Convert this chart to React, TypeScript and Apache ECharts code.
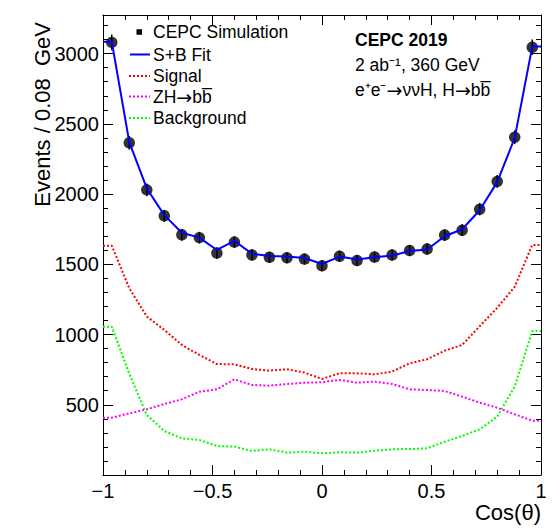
import { useEffect, useRef } from "react";
import * as echarts from "echarts";

// Bin centres of the cos(theta) histogram (bin width 0.08)
const binCenters = [
  -0.96, -0.88, -0.8, -0.72, -0.64, -0.56, -0.48, -0.4, -0.32, -0.24, -0.16, -0.08,
  0, 0.08, 0.16, 0.24, 0.32, 0.4, 0.48, 0.56, 0.64, 0.72, 0.8, 0.88, 0.96,
];

// Simulated events per bin
const simEvents = [
  3080, 2365, 2030, 1845, 1710, 1690, 1580, 1658, 1567, 1550, 1547, 1537,
  1489, 1558, 1527, 1552, 1566, 1598, 1609, 1708, 1743, 1892, 2090, 2405, 3045,
];

// Signal + background fit
const fitTotal = [
  3085, 2370, 2040, 1850, 1725, 1690, 1602, 1667, 1575, 1560, 1555, 1545,
  1502, 1555, 1535, 1550, 1562, 1595, 1605, 1700, 1750, 1885, 2085, 2400, 3050,
];

// Fitted components
const signal = [
  1633, 1330, 1128, 1033, 926, 855, 790, 788, 755, 743, 753, 729,
  684, 724, 724, 717, 736, 795, 824, 885, 926, 1059, 1190, 1340, 1638,
];
const zhbb = [
  408, 439, 468, 506, 539, 593, 610, 681, 641, 636, 648, 657,
  660, 677, 657, 665, 648, 610, 605, 598, 558, 515, 479, 432, 387,
];
const background = [
  1056, 720, 427, 313, 261, 249, 207, 202, 171, 183, 159, 166,
  154, 162, 159, 173, 183, 185, 190, 237, 278, 325, 415, 630, 1025,
];

const X_MIN = -1;
const X_MAX = 1;
const Y_MIN = 0;
const Y_MAX = 3275;

const FONT = "'Liberation Sans', Arial, Helvetica, sans-serif";
const BBAR = "bb\u0305";

// rich-text styles shared by the labels that carry arrows
const RICH = {
  t: { fontSize: 17.5, fontFamily: FONT, fill: "#000" },
  arr: { fontSize: 19, fontFamily: "'DejaVu Sans', sans-serif", fill: "#000" },
};

// Curve drawn through bin centres, held flat out to the histogram edges
function curve(values: number[]) {
  const pts: number[][] = binCenters.map((c, i) => [c, values[i]]);
  return [[X_MIN, values[0]], ...pts, [X_MAX, values[values.length - 1]]];
}

function fmtX(v: number) {
  return v < 0 ? "\u2212" + String(-v) : String(v);
}

function fmtY(v: number) {
  return String(v);
}

export default function App() {
  const ref = useRef<HTMLDivElement>(null);

  useEffect(() => {
    if (!ref.current) return;
    const chart = echarts.init(ref.current, null, { renderer: "svg" });

    const axisLine = { show: true, onZero: false, lineStyle: { color: "#000", width: 1 } };
    const tick = { show: true, inside: true, length: 10, lineStyle: { color: "#000", width: 1 } };
    const minor = { show: true, splitNumber: 5, length: 5, lineStyle: { color: "#000", width: 1 } };

    const dotted = (color: string) => ({ color, width: 2, type: [2, 2] as number[] });

    const legendRows = [
      { y: 32, label: "{t|CEPC Simulation}" },
      { y: 54.5, label: "{t|S+B Fit}" },
      { y: 76, label: "{t|Signal}" },
      { y: 96.5, label: "{t|ZH}{arr|\u2192}{t|" + BBAR + "}" },
      { y: 118, label: "{t|Background}" },
    ];

    chart.setOption({
      animation: false,
      backgroundColor: "#fff",
      grid: { left: 103, right: 11, top: 15, bottom: 55, containLabel: false },
      xAxis: [
        {
          type: "value",
          min: X_MIN,
          max: X_MAX,
          interval: 0.5,
          position: "bottom",
          axisLine,
          axisTick: tick,
          minorTick: minor,
          splitLine: { show: false },
          axisLabel: {
            fontSize: 20,
            color: "#000",
            fontFamily: FONT,
            margin: 6,
            formatter: fmtX,
          },
        },
        {
          type: "value",
          min: X_MIN,
          max: X_MAX,
          interval: 0.5,
          position: "top",
          axisLine,
          axisTick: tick,
          minorTick: minor,
          splitLine: { show: false },
          axisLabel: { show: false },
        },
      ],
      yAxis: [
        {
          type: "value",
          min: Y_MIN,
          max: Y_MAX,
          interval: 500,
          position: "left",
          axisLine,
          axisTick: tick,
          minorTick: minor,
          splitLine: { show: false },
          axisLabel: {
            fontSize: 20,
            color: "#000",
            fontFamily: FONT,
            margin: 4,
            showMinLabel: false,
            showMaxLabel: false,
            formatter: fmtY,
          },
        },
        {
          type: "value",
          min: Y_MIN,
          max: Y_MAX,
          interval: 500,
          position: "right",
          axisLine,
          axisTick: tick,
          minorTick: minor,
          splitLine: { show: false },
          axisLabel: { show: false },
        },
      ],
      series: [
        {
          name: "Background",
          type: "line",
          data: curve(background),
          symbol: "none",
          lineStyle: dotted("#00ff00"),
          z: 2,
        },
        {
          name: "ZH\u2192bb\u0305",
          type: "line",
          data: curve(zhbb),
          symbol: "none",
          lineStyle: dotted("#ff00ff"),
          z: 2,
        },
        {
          name: "Signal",
          type: "line",
          data: curve(signal),
          symbol: "none",
          lineStyle: dotted("#ff0000"),
          z: 2,
        },
        {
          name: "CEPC Simulation",
          type: "scatter",
          data: binCenters.map((c, i) => [c, simEvents[i]]),
          symbol: "circle",
          symbolSize: 11.5,
          itemStyle: { color: "#000" },
          z: 3,
        },
        {
          name: "errors",
          type: "custom",
          data: binCenters.map((c, i) => [c, simEvents[i]]),
          encode: { x: 0, y: 1 },
          z: 3,
          renderItem: (_params: any, api: any) => {
            const x = api.value(0);
            const y = api.value(1);
            const e = Math.sqrt(y);
            const top = api.coord([x, y + e]);
            const bot = api.coord([x, y - e]);
            return {
              type: "line",
              shape: { x1: top[0], y1: top[1], x2: bot[0], y2: bot[1] },
              style: { stroke: "#000", lineWidth: 1.5 },
            };
          },
        },
        {
          name: "S+B Fit",
          type: "line",
          data: curve(fitTotal),
          symbol: "none",
          lineStyle: { color: "#0000ff", width: 2 },
          z: 4,
        },
      ],
      graphic: [
        // legend symbols
        {
          type: "rect",
          shape: { x: 136.5, y: legendRows[0].y - 2.75, width: 5.5, height: 5.5 },
          style: { fill: "#000" },
          z: 10,
        },
        {
          type: "line",
          shape: { x1: 130, y1: legendRows[1].y, x2: 150, y2: legendRows[1].y },
          style: { stroke: "#0000ff", lineWidth: 2 },
          z: 10,
        },
        {
          type: "line",
          shape: { x1: 129, y1: legendRows[2].y, x2: 150, y2: legendRows[2].y },
          style: { stroke: "#ff0000", lineWidth: 2, lineDash: [2, 2] },
          z: 10,
        },
        {
          type: "line",
          shape: { x1: 129, y1: legendRows[3].y, x2: 150, y2: legendRows[3].y },
          style: { stroke: "#ff00ff", lineWidth: 2, lineDash: [2, 2] },
          z: 10,
        },
        {
          type: "line",
          shape: { x1: 129, y1: legendRows[4].y, x2: 150, y2: legendRows[4].y },
          style: { stroke: "#00ff00", lineWidth: 2, lineDash: [2, 2] },
          z: 10,
        },
        ...legendRows.map((r) => ({
          type: "text",
          x: 153,
          y: r.y,
          z: 10,
          style: {
            text: r.label,
            rich: RICH,
            fontSize: 17.5,
            fontFamily: FONT,
            fill: "#000",
            align: "left",
            verticalAlign: "middle",
          },
        })),
        // experiment labels
        {
          type: "text",
          x: 355,
          y: 39.5,
          z: 10,
          style: {
            text: "CEPC 2019",
            fontSize: 17.5,
            fontWeight: "bold",
            fontFamily: FONT,
            fill: "#000",
            align: "left",
            verticalAlign: "middle",
          },
        },
        {
          type: "text",
          x: 355,
          y: 65,
          z: 10,
          style: {
            text: "2 ab\u207B\u00B9, 360 GeV",
            fontSize: 17.5,
            fontFamily: FONT,
            fill: "#000",
            align: "left",
            verticalAlign: "middle",
          },
        },
        {
          type: "text",
          x: 355,
          y: 90,
          z: 10,
          style: {
            text:
              "{t|e\u207Ae\u207B}{arr|\u2192}{t|\u03BD\u03BDH, H}{arr|\u2192}{t|" + BBAR + "}",
            rich: RICH,
            fontSize: 17.5,
            fontFamily: FONT,
            fill: "#000",
            align: "left",
            verticalAlign: "middle",
          },
        },
        // axis titles
        {
          type: "text",
          x: 42,
          y: 22,
          rotation: Math.PI / 2,
          z: 10,
          style: {
            text: "Events / 0.08  GeV",
            fontSize: 22,
            fontFamily: FONT,
            fill: "#000",
            align: "right",
            verticalAlign: "middle",
          },
        },
        {
          type: "text",
          x: 541,
          y: 512,
          z: 10,
          style: {
            text: "Cos(\u03B8)",
            fontSize: 22,
            fontFamily: FONT,
            fill: "#000",
            align: "right",
            verticalAlign: "middle",
          },
        },
      ],
    });

    return () => chart.dispose();
  }, []);

  return (
    <div
      ref={ref}
      style={{ position: "absolute", left: 0, top: 0, width: 552, height: 530 }}
    />
  );
}
